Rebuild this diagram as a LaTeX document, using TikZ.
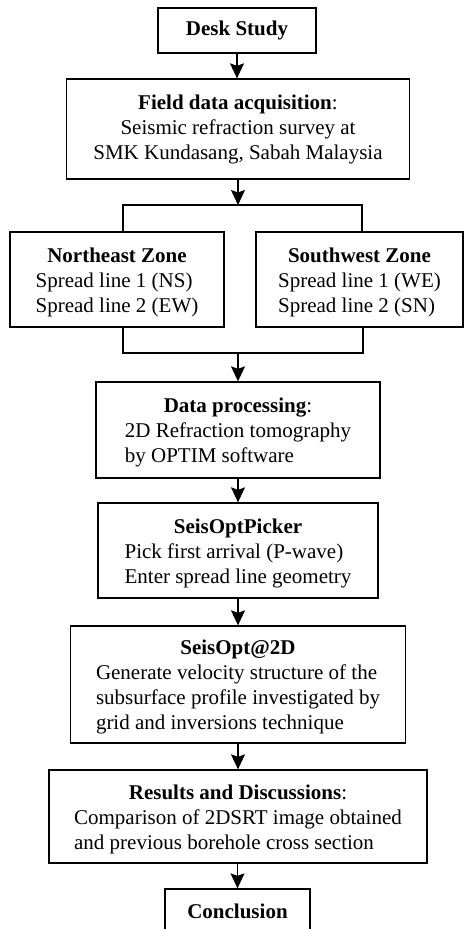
\documentclass[tikz,border=0pt]{standalone}
\usepackage{fontspec}
\setmainfont{Liberation Serif}
\usetikzlibrary{arrows.meta}

\tikzset{
  stepbox/.style={draw, line width=1.3pt, inner sep=0pt, align=center,
    font=\fontsize{21}{25}\selectfont},
  flow/.style={line width=1.3pt, -{Stealth[length=15pt,width=14pt,inset=2.5pt]}},
  wire/.style={line width=1.3pt}
}
% heading centred over a block of left-aligned lines
\newcommand{\steptext}[2]{\raisebox{-2.5pt}[\height][\depth]{%
  \begin{tabular}{@{}l@{}}\multicolumn{1}{@{}c@{}}{#1}\\ #2\end{tabular}}}

\begin{document}
\begin{tikzpicture}[x=1pt,y=-1pt]
\clip (0,0) rectangle (464,929);

\node [stepbox, minimum width=158pt, minimum height=45pt] (desk) at (237,30.5) {\textbf{Desk Study}};
\node [stepbox, minimum width=343pt, minimum height=100pt] (field) at (238,129)
  {\textbf{Field data acquisition}:\\ Seismic refraction survey at\\ SMK Kundasang, Sabah Malaysia};

\node [stepbox, minimum width=214pt, minimum height=95pt] (ne) at (117,279.5)
  {\steptext{\textbf{Northeast Zone}}{Spread line 1 (NS)\\ Spread line 2 (EW)}};
\node [stepbox, minimum width=207pt, minimum height=95pt] (sw) at (359.5,279.5)
  {\steptext{\textbf{Southwest Zone}}{Spread line 1 (WE)\\ Spread line 2 (SN)}};

\node [stepbox, minimum width=284pt, minimum height=96pt] (proc) at (238,430)
  {\steptext{\textbf{Data processing}:}{2D Refraction tomography\\ by OPTIM software}};
\node [stepbox, minimum width=280pt, minimum height=95pt] (picker) at (238,550.5)
  {\steptext{\textbf{SeisOptPicker}}{Pick first arrival (P-wave)\\ Enter spread line geometry}};
\node [stepbox, minimum width=335pt, minimum height=117pt] (twod) at (238,684.5)
  {\steptext{\textbf{SeisOpt@2D}}{Generate velocity structure of the\\ subsurface profile investigated by\\ grid and inversions technique}};
\node [stepbox, minimum width=378pt, minimum height=93pt] (result) at (238,816.5)
  {\steptext{\textbf{Results and Discussions}:}{Comparison of 2DSRT image obtained\\ and previous borehole cross section}};
\node [stepbox, minimum width=145pt, minimum height=45pt] (concl) at (237.5,911.5) {\textbf{Conclusion}};

% split and join
\coordinate (split) at (238,205);
\coordinate (splitL) at (123,205);
\coordinate (splitR) at (362,205);
\coordinate (join) at (238,353);
\coordinate (joinL) at (123,353);
\coordinate (joinR) at (363,353);

\draw [flow] (desk.south) -- (desk.south |- field.north);
\draw [flow] (field.south -| split) -- (split);
\draw [wire] (splitL |- ne.north) -- (splitL) -- (splitR) -- (splitR |- sw.north);
\draw [wire] (joinL |- ne.south) -- (joinL) -- (joinR) -- (joinR |- sw.south);
\draw [flow] (join) -- (join |- proc.north);
\draw [flow] (proc.south) -- (proc.south |- picker.north);
\draw [flow] (picker.south) -- (picker.south |- twod.north);
\draw [flow] (twod.south) -- (twod.south |- result.north);
\draw [flow] (result.south -| concl) -- (concl.north);
\end{tikzpicture}
\end{document}
